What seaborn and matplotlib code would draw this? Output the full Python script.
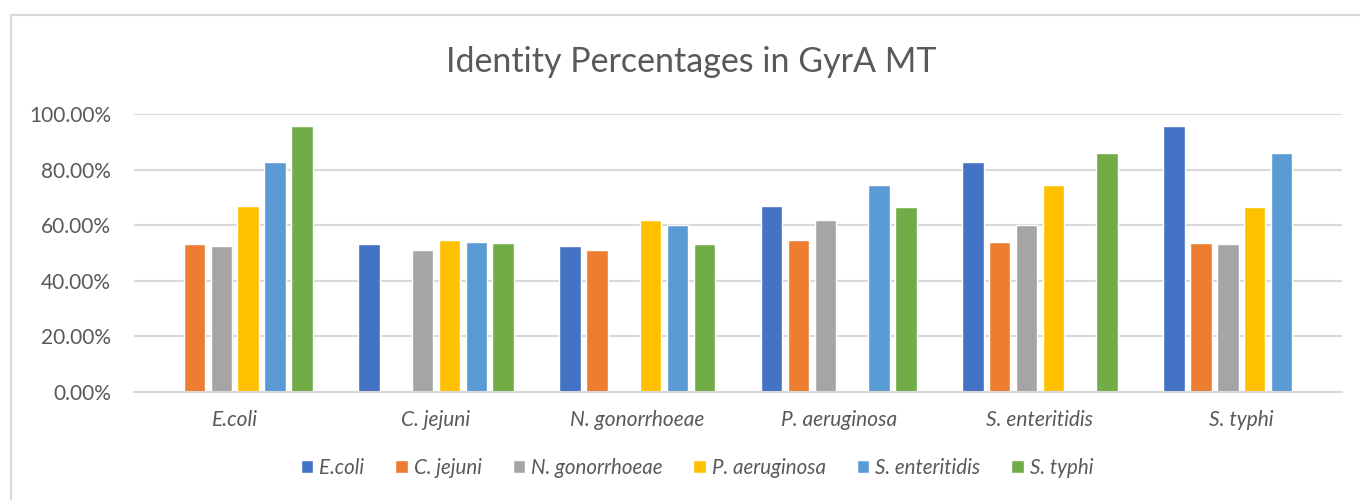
import numpy as np
import pandas as pd
import matplotlib.pyplot as plt
import matplotlib.ticker as mtick
from matplotlib.lines import Line2D
import seaborn as sns

# organisms (both x categories and series)
organisms = ['E.coli', 'C. jejuni', 'N. gonorrhoeae', 'P. aeruginosa',
             'S. enteritidis', 'S. typhi']

# identity percentages, one list per series (NaN = self comparison, not drawn)
ecoli          = [np.nan, 53.4, 52.6, 67.0, 82.7, 95.8]
c_jejuni       = [53.4, np.nan, 51.0, 54.5, 53.9, 53.7]
n_gonorrhoeae  = [52.6, 51.0, np.nan, 61.8, 60.1, 53.1]
p_aeruginosa   = [67.0, 54.5, 61.8, np.nan, 74.4, 66.4]
s_enteritidis  = [82.7, 53.9, 60.1, 74.4, np.nan, 85.8]
s_typhi        = [95.8, 53.7, 53.1, 66.4, 85.8, np.nan]

series_values = [ecoli, c_jejuni, n_gonorrhoeae, p_aeruginosa, s_enteritidis, s_typhi]
colors = ['#4472C4', '#ED7D31', '#A5A5A5', '#FFC000', '#5B9BD5', '#70AD47']

rows = []
for name, vals in zip(organisms, series_values):
    for cat, v in zip(organisms, vals):
        rows.append({'Organism': cat, 'Series': name, 'Identity': v})
df = pd.DataFrame(rows)

sns.set_style('white')
plt.rcParams['font.family'] = ['Lato', 'DejaVu Sans']
text_col = '#595959'
grid_col = '#D9D9D9'

fig = plt.figure(figsize=(13.6, 5), dpi=100)
ax = fig.add_axes([134 / 1360, 1 - 392 / 500, (1342 - 134) / 1360, (392 - 114) / 500])

sns.barplot(data=df, x='Organism', y='Identity', hue='Series',
            order=organisms, hue_order=organisms, palette=colors,
            width=0.8, gap=0.2, saturation=1, ax=ax)

ax.set_ylim(0, 100)
ax.set_yticks(np.arange(0, 101, 20))
ax.yaxis.set_major_formatter(mtick.PercentFormatter(decimals=2))
ax.grid(axis='y', color=grid_col, linewidth=1.5)
ax.set_axisbelow(True)
for s in ['top', 'right', 'left']:
    ax.spines[s].set_visible(False)
ax.spines['bottom'].set_color(grid_col)
ax.spines['bottom'].set_linewidth(1.5)
ax.tick_params(axis='y', length=0, pad=16.5, labelsize=15, labelcolor=text_col)
ax.tick_params(axis='x', length=0, pad=13, labelsize=15, labelcolor=text_col)
for lbl in ax.get_xticklabels():
    lbl.set_style('italic')
ax.set_xlabel('')
ax.set_ylabel('')

fig.text(691 / 1360, 1 - 62 / 500, 'Identity Percentages in GyrA MT',
         ha='center', va='center', fontsize=24.5, color=text_col)

sns.move_legend(ax, 'center', bbox_to_anchor=(697 / 1360, 1 - 468 / 500),
                bbox_transform=fig.transFigure, ncol=6, frameon=False, title=None,
                handlelength=0.6, handleheight=0.6, handletextpad=0.3,
                columnspacing=1.5, fontsize=14.8)
for t in ax.get_legend().get_texts():
    t.set_style('italic')
    t.set_color(text_col)

# chart area border
fig.add_artist(Line2D([11 / 1360, 1], [1 - 15 / 500, 1 - 15 / 500],
                      transform=fig.transFigure, color=grid_col, linewidth=1.5))
fig.add_artist(Line2D([11 / 1360, 11 / 1360], [0, 1 - 15 / 500],
                      transform=fig.transFigure, color=grid_col, linewidth=1.5))

fig.savefig('out.png', dpi=100)
